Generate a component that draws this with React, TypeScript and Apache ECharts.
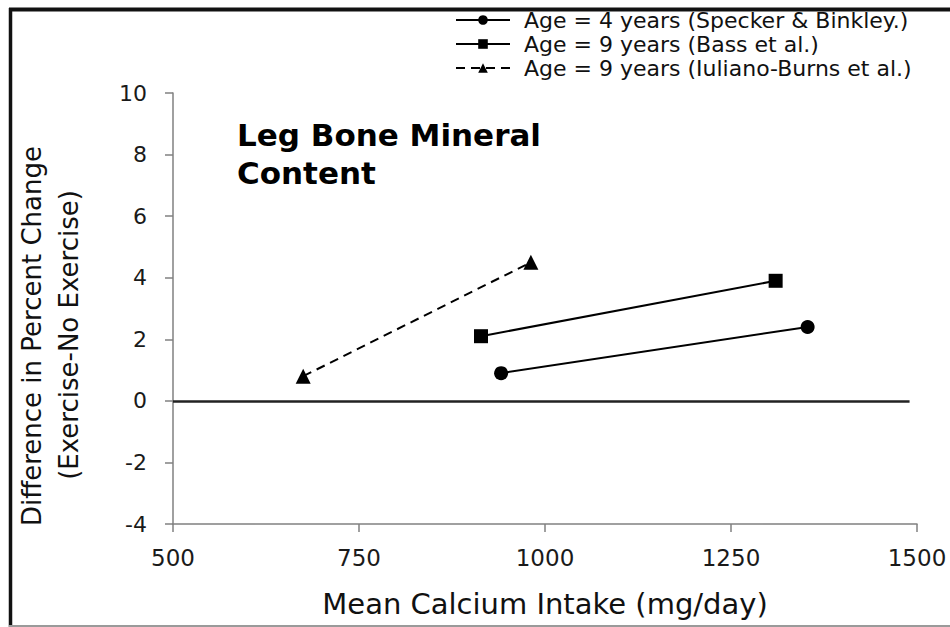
import React, { useEffect, useRef } from "react";
import * as echarts from "echarts";

const xTicks = { min: 500, max: 1500, interval: 250 };
const yTicks = { min: -4, max: 10, interval: 2 };

const seriesNames = [
  "Age = 4 years (Specker & Binkley.)",
  "Age = 9 years (Bass et al.)",
  "Age = 9 years (Iuliano-Burns et al.)",
];
const speckerData = [
  [941, 0.9],
  [1353, 2.4],
];
const bassData = [
  [914, 2.1],
  [1310, 3.9],
];
const iulianoData = [
  [675, 0.8],
  [981, 4.5],
];
const zeroLineSpan = [500, 1490];

const titleLines = ["Leg Bone Mineral", "Content"];
const xName = "Mean Calcium Intake (mg/day)";
const yNameLines = ["Difference in Percent Change", "(Exercise-No Exercise)"];

const FONT = "DejaVu Sans";
const AXIS_GRAY = "#808080";

export default function App() {
  const ref = useRef<HTMLDivElement>(null);

  useEffect(() => {
    if (!ref.current) return;
    const chart = echarts.init(ref.current, null, { renderer: "svg" });

    const lineBase = { color: "#000", width: 2 };

    chart.setOption({
      animation: false,
      backgroundColor: "#fff",
      grid: { left: 173, top: 93, width: 744, height: 431, containLabel: false },
      legend: {
        orient: "vertical",
        left: 455,
        top: 9,
        padding: 0,
        itemWidth: 54,
        itemHeight: 12,
        itemGap: 2,
        data: seriesNames,
        textStyle: {
          fontFamily: FONT,
          fontSize: 22,
          color: "#111",
          padding: [0, 0, 0, 9],
        },
      },
      xAxis: {
        type: "value",
        min: xTicks.min,
        max: xTicks.max,
        interval: xTicks.interval,
        name: xName,
        nameLocation: "middle",
        nameGap: 65,
        nameTextStyle: { fontFamily: FONT, fontSize: 29, color: "#111" },
        axisLine: { onZero: false, lineStyle: { color: AXIS_GRAY, width: 1.5 } },
        axisTick: { length: 8, lineStyle: { color: AXIS_GRAY, width: 1.5 } },
        axisLabel: {
          fontFamily: FONT,
          fontSize: 23,
          color: "#1a1a1a",
          margin: 22,
          formatter: (v: number) => String(v),
        },
        splitLine: { show: false },
      },
      yAxis: {
        type: "value",
        min: yTicks.min,
        max: yTicks.max,
        interval: yTicks.interval,
        axisLine: { show: true, onZero: false, lineStyle: { color: AXIS_GRAY, width: 1.5 } },
        axisTick: { show: true, length: 8, lineStyle: { color: AXIS_GRAY, width: 1.5 } },
        axisLabel: {
          fontFamily: FONT,
          fontSize: 22,
          color: "#1a1a1a",
          margin: 26,
          formatter: (v: number) => String(v),
        },
        splitLine: { show: false },
      },
      series: [
        {
          name: seriesNames[0],
          type: "line",
          data: speckerData,
          symbol: "circle",
          symbolSize: 14,
          lineStyle: lineBase,
          itemStyle: { color: "#000" },
          z: 3,
          markLine: {
            silent: true,
            symbol: "none",
            label: { show: false },
            lineStyle: { color: "#222", width: 2.5, type: "solid" },
            data: [[{ coord: [zeroLineSpan[0], 0] }, { coord: [zeroLineSpan[1], 0] }]],
          },
        },
        {
          name: seriesNames[1],
          type: "line",
          data: bassData,
          symbol: "rect",
          symbolSize: 14,
          lineStyle: lineBase,
          itemStyle: { color: "#000" },
          z: 3,
        },
        {
          name: seriesNames[2],
          type: "line",
          data: iulianoData,
          symbol: "triangle",
          symbolSize: 15,
          lineStyle: { color: "#000", width: 2, type: [9, 6] },
          itemStyle: { color: "#000" },
          z: 3,
        },
      ],
      graphic: [
        { type: "line", silent: true, shape: { x1: 9, y1: 9.5, x2: 950, y2: 9.5 }, style: { stroke: "#111", lineWidth: 4 } },
        { type: "line", silent: true, shape: { x1: 10.5, y1: 8, x2: 10.5, y2: 627 }, style: { stroke: "#111", lineWidth: 3.5 } },
        { type: "line", silent: true, shape: { x1: 9, y1: 626, x2: 950, y2: 626 }, style: { stroke: "#9a9a9a", lineWidth: 2 } },
        {
          type: "text",
          left: 237,
          top: 119,
          style: { text: titleLines[0], font: `bold 31px "${FONT}"`, fill: "#000" },
        },
        {
          type: "text",
          left: 237,
          top: 157,
          style: { text: titleLines[1], font: `bold 31px "${FONT}"`, fill: "#000" },
        },
        {
          type: "text",
          x: 32,
          y: 336,
          rotation: Math.PI / 2,
          style: {
            text: yNameLines[0],
            font: `26px "${FONT}"`,
            fill: "#111",
            align: "center",
            verticalAlign: "middle",
          },
        },
        {
          type: "text",
          x: 69,
          y: 335,
          rotation: Math.PI / 2,
          style: {
            text: yNameLines[1],
            font: `26px "${FONT}"`,
            fill: "#111",
            align: "center",
            verticalAlign: "middle",
          },
        },
      ],
    });

    return () => chart.dispose();
  }, []);

  return (
    <div
      ref={ref}
      style={{ position: "fixed", left: 0, top: 0, width: 950, height: 627 }}
    />
  );
}
